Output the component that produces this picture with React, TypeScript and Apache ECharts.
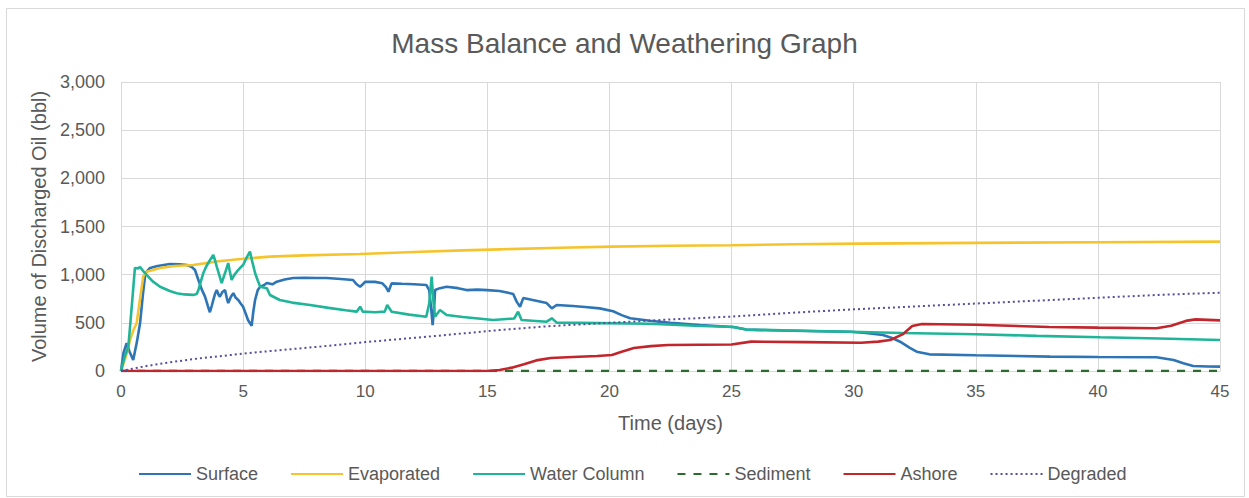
import React, { useEffect, useRef } from "react";
import * as echarts from "echarts";

const TITLE = "Mass Balance and Weathering Graph";
const X_NAME = "Time (days)";
const Y_NAME = "Volume of Discharged Oil (bbl)";
const SERIES_NAMES = ["Surface", "Evaporated", "Water Column", "Sediment", "Ashore", "Degraded"];

const surface: number[][] = [
  [0, 0], [0.1, 185], [0.23, 290], [0.35, 200], [0.5, 115], [0.65, 300], [0.78, 495], [0.9, 800], [1.0, 1017],
  [1.19, 1070], [1.5, 1090], [2.0, 1110], [2.4, 1108], [2.7, 1100], [2.9, 1080], [3.03, 1048], [3.17, 945],
  [3.3, 850], [3.44, 772], [3.55, 680], [3.64, 610], [3.72, 680], [3.78, 737], [3.85, 800], [3.92, 840],
  [4.0, 790], [4.05, 772], [4.15, 820], [4.26, 840], [4.33, 760], [4.39, 705], [4.5, 770], [4.6, 808],
  [4.7, 760], [4.8, 737], [4.9, 700], [5.0, 667], [5.1, 600], [5.2, 530], [5.35, 470], [5.42, 620],
  [5.49, 737], [5.6, 840], [5.7, 875], [5.85, 890], [5.97, 913], [6.2, 900], [6.38, 927], [6.7, 950],
  [7.05, 965], [7.5, 968], [8.0, 966], [8.42, 965], [9.0, 955], [9.5, 945], [9.65, 900], [9.79, 875],
  [9.9, 900], [10.0, 927], [10.4, 925], [10.7, 910], [10.85, 870], [10.95, 823], [11.08, 910], [11.5, 905],
  [12.0, 900], [12.5, 893], [12.62, 840], [12.7, 650], [12.76, 477], [12.82, 650], [12.86, 840], [13.06, 860],
  [13.33, 875], [13.8, 860], [14.15, 840], [14.6, 845], [15.0, 840], [15.5, 830], [15.8, 815], [16.06, 800],
  [16.2, 720], [16.34, 667], [16.47, 757], [17.0, 730], [17.43, 705], [17.64, 650], [17.84, 685], [18.5, 675],
  [19.0, 665], [19.6, 650], [20.15, 620], [20.5, 580], [20.85, 547], [21.66, 522], [22.5, 500], [23.7, 477],
  [25.07, 456], [25.6, 430], [27, 420], [28.5, 412], [29.85, 408], [30.5, 395], [31.2, 374], [31.6, 340],
  [31.9, 304], [32.3, 240], [32.58, 200], [33.1, 173], [35, 163], [38.04, 149], [40, 145], [42.4, 142],
  [43.1, 114], [43.5, 80], [43.9, 52], [44.5, 46], [45, 45],
];

const evaporated: number[][] = [
  [0, 0], [0.2, 150], [0.37, 322], [0.5, 420], [0.64, 495], [0.78, 750], [0.91, 980], [1.05, 1031], [1.6, 1070],
  [2.2, 1090], [2.95, 1100], [4, 1140], [5, 1165], [6.1, 1187], [7.5, 1200], [9.79, 1215], [12, 1235],
  [14, 1252], [15.5, 1263], [18, 1280], [20.1, 1291], [22.5, 1300], [25, 1305], [27.5, 1315], [30.26, 1322],
  [35, 1330], [40, 1337], [45, 1343],
];

const waterColumn: number[][] = [
  [0, 0], [0.15, 150], [0.3, 250], [0.45, 700], [0.57, 1070], [0.7, 1065], [0.78, 1080], [0.9, 1040],
  [1.05, 997], [1.3, 930], [1.6, 875], [2.0, 830], [2.28, 808], [2.6, 795], [2.95, 790], [3.1, 800],
  [3.17, 840], [3.27, 930], [3.37, 1017], [3.5, 1090], [3.64, 1150], [3.78, 1204], [3.85, 1150], [3.92, 1083],
  [4.02, 1000], [4.12, 913], [4.26, 1017], [4.39, 1120], [4.45, 1040], [4.53, 945], [4.62, 990], [4.74, 1031],
  [4.88, 1070], [5.0, 1100], [5.15, 1180], [5.28, 1239], [5.38, 1130], [5.49, 1017], [5.6, 940], [5.7, 875],
  [5.97, 860], [6.1, 789], [6.5, 737], [7.0, 710], [7.74, 685], [8.5, 655], [9.2, 630], [9.65, 616],
  [9.79, 667], [9.9, 616], [10.4, 610], [10.8, 616], [10.9, 685], [11.08, 616], [11.8, 585], [12.5, 564],
  [12.62, 700], [12.72, 979], [12.8, 700], [12.86, 564], [13.06, 633], [13.33, 581], [14, 560], [15.24, 530],
  [16.1, 545], [16.26, 616], [16.4, 530], [17.43, 512], [17.64, 547], [17.84, 502], [19.6, 497], [21.66, 490],
  [23.5, 470], [25.07, 456], [25.6, 430], [27.5, 420], [29.85, 408], [32, 395], [35, 381], [37.5, 365],
  [40.1, 350], [42.5, 337], [45, 322],
];

const sediment: number[][] = [[0, 0], [45, 0]];

const ashore: number[][] = [
  [0, 0], [15.0, 0], [15.5, 10], [16.0, 35], [16.5, 70], [17.0, 110], [17.6, 135], [18.5, 145], [19.5, 155],
  [20.1, 166], [20.5, 200], [21, 239], [21.7, 258], [22.4, 270], [25, 275], [25.8, 305], [28, 300],
  [30.3, 294], [31, 305], [31.5, 322], [32, 380], [32.4, 467], [32.8, 488], [35, 480], [38, 457], [40, 450],
  [42.4, 443], [43, 470], [43.6, 520], [44, 536], [45, 526],
];

const degraded: number[][] = [
  [0, 0], [1, 50], [2, 90], [3, 125], [5, 180], [6.1, 207], [8, 250], [10, 300], [12.5, 355], [15.5, 425],
  [17.5, 465], [20, 500], [22.5, 535], [25, 565], [27.5, 605], [30, 640], [32.5, 670], [35, 700],
  [37.5, 730], [40, 760], [42.5, 790], [45, 813],
];

const X_MIN = 0, X_MAX = 45, X_STEP = 5;
const Y_MIN = 0, Y_MAX = 3000, Y_STEP = 500;

const COLORS = ["#2e75b6", "#f5c42c", "#20b598", "#2e6b2e", "#c0262c", "#5a4c9c"];

export default function App() {
  const ref = useRef<HTMLDivElement>(null);
  useEffect(() => {
    if (!ref.current) return;
    const chart = echarts.init(ref.current, null, { renderer: "svg" });
    const font = "Liberation Sans, Arial, sans-serif";
    const mk = (i: number, data: number[][], extra: any = {}) => ({
      name: SERIES_NAMES[i],
      type: "line",
      data,
      showSymbol: false,
      symbol: "none",
      color: COLORS[i],
      lineStyle: { width: 2.6, color: COLORS[i], ...extra },
      z: 2 + i,
    });
    chart.setOption({
      animation: false,
      backgroundColor: "#ffffff",
      textStyle: { fontFamily: font },
      title: {
        text: TITLE,
        left: "center",
        top: 24,
        textStyle: { fontSize: 28, fontWeight: "normal", color: "#595959", fontFamily: font },
      },
      graphic: [
        {
          type: "rect",
          shape: { x: 6.5, y: 8.5, width: 1238, height: 488 },
          style: { fill: "none", stroke: "#d9d9d9", lineWidth: 1 },
          silent: true,
        },
      ],
      grid: { left: 121, right: 29, top: 82, bottom: 127, containLabel: false },
      legend: {
        left: 133,
        top: 460,
        itemWidth: 52,
        itemHeight: 14,
        itemGap: 32,
        itemStyle: { opacity: 0 },
        textStyle: { fontSize: 18, color: "#595959", fontFamily: font },
        data: SERIES_NAMES,
      },
      xAxis: {
        type: "value",
        min: X_MIN,
        max: X_MAX,
        interval: X_STEP,
        name: X_NAME,
        nameLocation: "middle",
        nameGap: 42,
        nameTextStyle: { fontSize: 20, color: "#595959", fontFamily: font },
        axisLine: { show: true, lineStyle: { color: "#d9d9d9", width: 1 } },
        axisTick: { show: false },
        axisLabel: { fontSize: 17, color: "#595959", margin: 12, fontFamily: font },
        splitLine: { show: true, lineStyle: { color: "#d9d9d9", width: 1 } },
      },
      yAxis: {
        type: "value",
        min: Y_MIN,
        max: Y_MAX,
        interval: Y_STEP,
        name: Y_NAME,
        nameLocation: "middle",
        nameRotate: 90,
        nameGap: 64,
        nameTextStyle: { fontSize: 20, color: "#595959", fontFamily: font },
        axisLine: { show: false },
        axisTick: { show: false },
        axisLabel: {
          fontSize: 18,
          color: "#595959",
          margin: 16,
          fontFamily: font,
          formatter: (v: number) => v.toLocaleString("en-US"),
        },
        splitLine: { show: true, lineStyle: { color: "#d9d9d9", width: 1 } },
      },
      series: [
        mk(0, surface),
        mk(1, evaporated),
        mk(2, waterColumn),
        mk(3, sediment, { type: [8, 8], width: 2.6 }),
        mk(4, ashore),
        mk(5, degraded, { type: [2, 3], width: 2 }),
      ],
    });
    return () => chart.dispose();
  }, []);
  return (
    <div
      ref={ref}
      style={{ position: "absolute", left: 0, top: 0, width: 1249, height: 498 }}
    />
  );
}
